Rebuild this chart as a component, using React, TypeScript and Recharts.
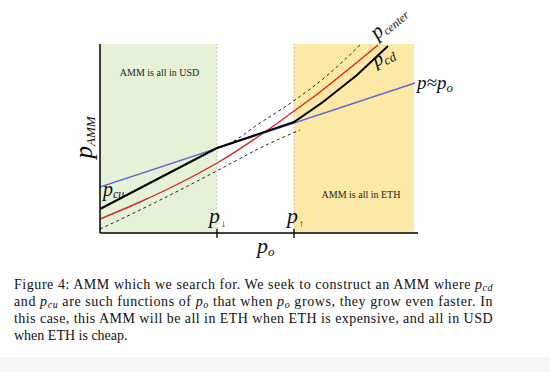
import React from 'react';
import { LineChart, Line, XAxis, YAxis, ReferenceArea, ReferenceLine, ReferenceDot } from 'recharts';

const SERIF = "'Liberation Serif', 'Times New Roman', Times, serif";

// p_o positions (x) and p values (y)
const blueX = [0, 315];
const blueY = [48, 152];
const blackX = [0, 117, 194, 223, 257, 288];
const blackY = [26, 87, 113, 133, 160, 189];
const redX = [0, 40, 80, 117, 162, 190, 220, 250, 278];
const redY = [16, 33, 52, 72, 101, 121, 143, 167, 190];
const lowerX = [0, 40, 80, 128, 160, 200];
const lowerY = [6, 25, 45, 70, 87, 105];
const upperX = [117, 126, 160, 195, 230, 260];
const upperY = [87, 90, 112, 135, 162, 190];
const usdRegion = [0, 117];
const ethRegion = [194, 314];
const tickX = [117, 194];

const pts = (xs: number[], ys: number[]) => xs.map((x, i) => ({ x, y: ys[i] }));

const blue = pts(blueX, blueY);
const black = pts(blackX, blackY);
const red = pts(redX, redY);
const lower = pts(lowerX, lowerY);
const upper = pts(upperX, upperY);

type MT = {
  cx?: number; cy?: number; main: string; sub: string; size: number; subSize: number;
  angle?: number; anchor?: string; subDy?: number; subItalic?: boolean; subDx?: number;
};

const MathText = ({ cx = 0, cy = 0, main, sub, size, subSize, angle, anchor = 'start', subDy = 3, subItalic = true, subDx = 0 }: MT) => (
  <text
    x={cx}
    y={cy}
    fontFamily={SERIF}
    fontStyle="italic"
    fontSize={size}
    fill="#111"
    textAnchor={anchor as any}
    transform={angle ? `rotate(${angle} ${cx} ${cy})` : undefined}
  >
    {main}
    <tspan fontSize={subSize} dy={subDy} dx={subDx} fontStyle={subItalic ? 'italic' : 'normal'}>{sub}</tspan>
  </text>
);

const dotShape = (props: MT) => (p: any) => <MathText cx={p.cx} cy={p.cy} {...props} />;

const PlainText = ({ cx = 0, cy = 0, text }: { cx?: number; cy?: number; text: string }) => (
  <text x={cx} y={cy} fontFamily={SERIF} fontSize={10} fill="#222" textAnchor="middle">{text}</text>
);

export default function App() {
  return (
    <div style={{ position: 'absolute', left: 0, top: 0, width: 550, height: 372, background: '#fff', overflow: 'hidden' }}>
      <LineChart width={550} height={372} margin={{ top: 44, right: 132, bottom: 119, left: 80 }}>
        <XAxis type="number" dataKey="x" domain={[0, 318]} height={20} tick={false} tickLine={false}
          axisLine={{ stroke: '#000', strokeWidth: 1.5 }} allowDataOverflow />
        <YAxis type="number" dataKey="y" domain={[2, 191]} width={20} tick={false} tickLine={false}
          axisLine={{ stroke: '#000', strokeWidth: 1.5 }} allowDataOverflow />
        <ReferenceArea x1={usdRegion[0]} x2={usdRegion[1]} y1={2} y2={191} fill="#e5f2d8" fillOpacity={1} stroke="none" ifOverflow="visible" />
        <ReferenceArea x1={ethRegion[0]} x2={ethRegion[1]} y1={2} y2={191} fill="#fde9a6" fillOpacity={1} stroke="none" ifOverflow="visible" />
        {tickX.map((t) => (
          <ReferenceLine key={'d' + t} segment={[{ x: t, y: 2 }, { x: t, y: 191 }]} stroke="#b5b5b5" strokeWidth={0.8} strokeDasharray="2 2" ifOverflow="visible" />
        ))}
        {tickX.map((t) => (
          <ReferenceLine key={'t' + t} segment={[{ x: t, y: 6 }, { x: t, y: -3 }]} stroke="#000" strokeWidth={1.3} ifOverflow="visible" />
        ))}
        <Line data={lower} dataKey="y" type="monotone" stroke="#222" strokeWidth={1} strokeDasharray="3 3" dot={false} isAnimationActive={false} />
        <Line data={upper} dataKey="y" type="monotone" stroke="#222" strokeWidth={1} strokeDasharray="3 3" dot={false} isAnimationActive={false} />
        <Line data={red} dataKey="y" type="monotone" stroke="#d8261f" strokeWidth={1.4} dot={false} isAnimationActive={false} />
        <Line data={blue} dataKey="y" type="linear" stroke="#6167d8" strokeWidth={1.4} dot={false} isAnimationActive={false} />
        <Line data={black} dataKey="y" type="linear" stroke="#000" strokeWidth={2} dot={false} isAnimationActive={false} />

        <ReferenceDot x={59.5} y={159} r={0} ifOverflow="visible" shape={(p: any) => <PlainText cx={p.cx} cy={p.cy} text="AMM is all in USD" />} />
        <ReferenceDot x={261} y={37} r={0} ifOverflow="visible" shape={(p: any) => <PlainText cx={p.cx} cy={p.cy} text="AMM is all in ETH" />} />

        <ReferenceDot x={3} y={39} r={0} ifOverflow="visible" shape={dotShape({ main: 'p', sub: 'cu', size: 20, subSize: 12, subDy: 2 })} />
        <ReferenceDot x={-8} y={97.5} r={0} ifOverflow="visible" shape={dotShape({ main: 'p', sub: 'AMM', size: 25, subSize: 13, subDy: 3, angle: -90, anchor: 'middle' })} />
        <ReferenceDot x={109} y={12} r={0} ifOverflow="visible" shape={dotShape({ main: 'p', sub: '↓', size: 22, subSize: 10, subDy: 4, subItalic: false, subDx: 1 })} />
        <ReferenceDot x={187} y={12} r={0} ifOverflow="visible" shape={dotShape({ main: 'p', sub: '↑', size: 22, subSize: 10, subDy: 4, subItalic: false, subDx: 1 })} />
        <ReferenceDot x={157} y={-18} r={0} ifOverflow="visible" shape={dotShape({ main: 'p', sub: 'o', size: 22, subSize: 13, subDy: 3 })} />
        <ReferenceDot x={277} y={195} r={0} ifOverflow="visible" shape={dotShape({ main: 'p', sub: 'center', size: 21, subSize: 12, subDy: 3, angle: -40 })} />
        <ReferenceDot x={276} y={168} r={0} ifOverflow="visible" shape={dotShape({ main: 'p', sub: 'cd', size: 20, subSize: 13, subDy: 3, angle: -27 })} />
        <ReferenceDot x={317} y={146.5} r={0} ifOverflow="visible" shape={dotShape({ main: 'p≈p', sub: 'o', size: 19, subSize: 13, subDy: 3 })} />
      </LineChart>

      <svg style={{ position: 'absolute', left: 0, top: 0 }} width={550} height={372}>
        <rect x={0} y={357} width={550} height={15} fill="#f6f6f6" />
        <g fontFamily={SERIF} fontSize={14} fill="#111">
          <text x={14} y={289.3} textLength={478.5} lengthAdjust="spacing">
            Figure 4: AMM which we search for. We seek to construct an AMM where{' '}
            <tspan fontStyle="italic">p</tspan>
            <tspan fontStyle="italic" fontSize={10} dy={2}>cd</tspan>
          </text>
          <text x={14} y={306.3} textLength={478.5} lengthAdjust="spacing">
            and <tspan fontStyle="italic">p</tspan>
            <tspan fontStyle="italic" fontSize={10} dy={2}>cu</tspan>
            <tspan dy={-2}> are such functions of </tspan>
            <tspan fontStyle="italic">p</tspan>
            <tspan fontStyle="italic" fontSize={10} dy={2}>o</tspan>
            <tspan dy={-2}> that when </tspan>
            <tspan fontStyle="italic">p</tspan>
            <tspan fontStyle="italic" fontSize={10} dy={2}>o</tspan>
            <tspan dy={-2}> grows, they grow even faster. In</tspan>
          </text>
          <text x={14} y={323.2} textLength={478.5} lengthAdjust="spacing">
            this case, this AMM will be all in ETH when ETH is expensive, and all in USD
          </text>
          <text x={14} y={340}>when ETH is cheap.</text>
        </g>
      </svg>
    </div>
  );
}
